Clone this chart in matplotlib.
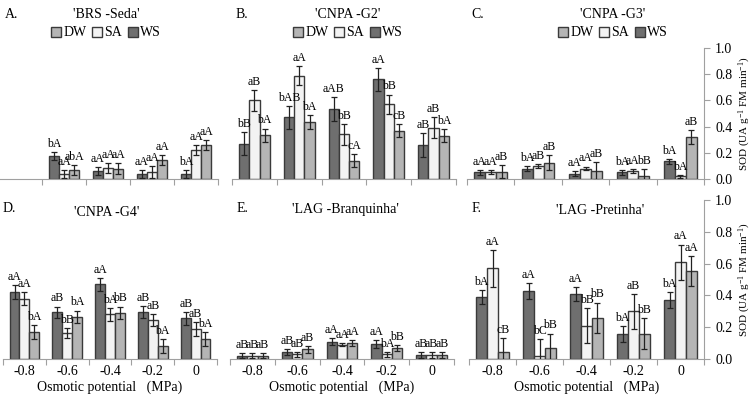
import numpy as np
import matplotlib.pyplot as plt
from matplotlib.patches import Patch

plt.rcParams['font.family'] = ['Liberation Serif', 'DejaVu Serif']
plt.rcParams['mathtext.fontset'] = 'custom'
plt.rcParams['mathtext.rm'] = 'Liberation Serif'
plt.rcParams['mathtext.it'] = 'Liberation Serif:italic'

potentials = ['-0.8', '-0.6', '-0.4', '-0.2', '0']
nan = np.nan

# order of rows: WS, SA, DW
seda_mean = [[nan, 0.175, 0.06, 0.04, 0.035], [nan, 0.04, 0.085, 0.055, 0.22], [nan, 0.07, 0.08, 0.145, 0.26]]
seda_err = [[nan, 0.03, 0.03, 0.03, 0.03], [nan, 0.03, 0.04, 0.045, 0.04], [nan, 0.04, 0.04, 0.04, 0.04]]
seda_lab = [['', 'bA', 'aA', 'aA', 'bA'], ['', 'aA', 'aA', 'aA', 'aA'], ['', 'abA', 'aA', 'aA', 'aA']]

g2_mean = [[0.27, 0.47, 0.535, 0.76, 0.26], [0.60, 0.79, 0.34, 0.57, 0.39], [0.335, 0.435, 0.14, 0.37, 0.33]]
g2_err = [[0.09, 0.09, 0.09, 0.09, 0.09], [0.08, 0.075, 0.08, 0.075, 0.08], [0.05, 0.05, 0.05, 0.05, 0.05]]
g2_lab = [['bB', 'bAB', 'aAB', 'aA', 'aB'], ['aB', 'aA', 'bB', 'bB', 'aB'], ['bA', 'bA', 'cA', 'cB', 'bA']]

g3_mean = [[0.05, 0.08, 0.04, 0.05, 0.135], [0.05, 0.10, 0.08, 0.06, 0.02], [0.055, 0.125, 0.06, 0.02, 0.32]]
g3_err = [[0.02, 0.02, 0.02, 0.02, 0.02], [0.015, 0.015, 0.015, 0.015, 0.01], [0.05, 0.055, 0.07, 0.055, 0.055]]
g3_lab = [['aA', 'bA', 'aA', 'bA', 'bA'], ['aA', 'aB', 'aA', 'aA', 'bA'], ['aB', 'aB', 'aB', 'bB', 'aB']]

g4_mean = [[0.42, 0.295, 0.47, 0.295, 0.255], [0.38, 0.165, 0.28, 0.245, 0.19], [0.17, 0.265, 0.29, 0.08, 0.125]]
g4_err = [[0.045, 0.035, 0.04, 0.04, 0.04], [0.04, 0.03, 0.04, 0.04, 0.045], [0.045, 0.04, 0.04, 0.045, 0.045]]
g4_lab = [['aA', 'aB', 'aA', 'aB', 'aB'], ['aA', 'bB', 'bA', 'aB', 'aB'], ['bA', 'bA', 'bB', 'bA', 'bA']]

bran_mean = [[0.02, 0.045, 0.11, 0.095, 0.025], [0.02, 0.03, 0.09, 0.03, 0.025], [0.02, 0.06, 0.10, 0.07, 0.025]]
bran_err = [[0.015, 0.02, 0.02, 0.025, 0.02], [0.015, 0.015, 0.01, 0.015, 0.02], [0.015, 0.02, 0.02, 0.02, 0.02]]
bran_lab = [['aB', 'aB', 'aA', 'aA', 'aB'], ['aB', 'aB', 'aA', 'bA', 'aB'], ['aB', 'aB', 'aA', 'bB', 'aB']]

pret_mean = [[0.39, 0.43, 0.41, 0.16, 0.37], [0.57, 0.017, 0.21, 0.30, 0.61], [0.044, 0.07, 0.26, 0.16, 0.555]]
pret_err = [[0.045, 0.05, 0.045, 0.05, 0.05], [0.115, 0.11, 0.11, 0.11, 0.11], [0.09, 0.09, 0.095, 0.095, 0.095]]
pret_lab = [['bA', 'aA', 'aA', 'bA', 'bA'], ['aA', 'bC', 'bB', 'aB', 'aA'], ['cB', 'bB', 'bB', 'bB', 'aA']]

colors = ['#6f6f6f', '#f3f3f3', '#b5b5b5']
spine_c = '#a0a0a0'

fig = plt.figure(figsize=(7.56, 3.99), dpi=100)

def panel(rect, mean, err, lab, right_axis, xlabels):
    ax = fig.add_axes(rect)
    x = np.arange(5)
    w = 0.23
    for i in range(3):
        xs = x + (i - 1) * w
        ax.bar(xs, mean[i], w, color=colors[i], edgecolor='#3a3a3a', lw=1.0, zorder=2)
        ax.errorbar(xs, mean[i], yerr=err[i], fmt='none', ecolor='#222222',
                    elinewidth=0.9, capsize=2.5, capthick=0.9, zorder=3)
        for j in range(5):
            if lab[i][j]:
                ax.annotate(lab[i][j], (xs[j], mean[i][j] + err[i][j]), xytext=(0, 1.5),
                            textcoords='offset points', ha='center', va='bottom', fontsize=8.5)
    ax.set_xlim(-0.5, 4.5)
    ax.set_ylim(0, 1.0)
    ax.set_xticks(np.arange(-0.5, 5, 1))
    ax.set_xticklabels([])
    ax.set_xticks(x, minor=True)
    ax.tick_params(axis='x', which='major', length=4, color=spine_c, direction='out')
    if xlabels:
        ax.set_xticklabels(potentials, minor=True)
        ax.tick_params(axis='x', which='minor', length=0, labelsize=10, pad=4)
        ax.set_xlabel('Osmotic potential   (MPa)', fontsize=10, labelpad=2)
    else:
        ax.tick_params(axis='x', which='minor', length=0, labelbottom=False)
    for s in ['top', 'left']:
        ax.spines[s].set_visible(False)
    ax.spines['bottom'].set_color(spine_c)
    if right_axis:
        ax.spines['right'].set_color(spine_c)
        ax.yaxis.tick_right()
        ax.set_yticks(np.arange(0, 1.01, 0.2))
        ax.set_yticklabels(['%.1f' % v for v in np.arange(0, 1.01, 0.2)])
        ax.tick_params(axis='y', length=4, color=spine_c, labelsize=10, pad=4)
        ax.yaxis.set_label_position('right')
        ax.set_ylabel(r'SOD (UA g$^{-1}$ FM min$^{-1}$)', fontsize=8, labelpad=3)
    else:
        ax.spines['right'].set_visible(False)
        ax.set_yticks([])
    return ax

top_b, top_h = 1 - 179 / 399, 131 / 399
bot_b, bot_h = 1 - 359 / 399, 159 / 399
W = 756
panel([-2 / W, top_b, 220 / W, top_h], seda_mean, seda_err, seda_lab, False, False)
panel([232 / W, top_b, 224 / W, top_h], g2_mean, g2_err, g2_lab, False, False)
panel([467 / W, top_b, 237 / W, top_h], g3_mean, g3_err, g3_lab, True, False)
panel([3 / W, bot_b, 214 / W, bot_h], g4_mean, g4_err, g4_lab, False, True)
panel([230 / W, bot_b, 224 / W, bot_h], bran_mean, bran_err, bran_lab, False, True)
panel([469 / W, bot_b, 235 / W, bot_h], pret_mean, pret_err, pret_lab, True, True)

def ftext(px, py, s, **kw):
    fig.text(px / W, 1 - py / 399, s, va='center', **kw)

ftext(5, 15, 'A.', fontsize=10)
ftext(236, 15, 'B.', fontsize=10)
ftext(471, 15, 'C.', fontsize=10)
ftext(3, 208, 'D.', fontsize=10)
ftext(237, 208, 'E.', fontsize=10)
ftext(472, 208, 'F.', fontsize=10)

ftext(106, 15, "'BRS -Seda'", fontsize=10, ha='center')
ftext(348, 15, "'CNPA -G2'", fontsize=10, ha='center')
ftext(613, 15, "'CNPA -G3'", fontsize=10, ha='center')
ftext(107, 212, "'CNPA -G4'", fontsize=10, ha='center')
ftext(345, 210, "'LAG -Branquinha'", fontsize=10, ha='center')
ftext(600, 210, "'LAG -Pretinha'", fontsize=10, ha='center')

handles = [Patch(facecolor=colors[2], edgecolor='#3a3a3a', label='DW'),
           Patch(facecolor=colors[1], edgecolor='#3a3a3a', label='SA'),
           Patch(facecolor=colors[0], edgecolor='#3a3a3a', label='WS')]
for cx in [106, 348, 613]:
    fig.legend(handles=handles, loc='center', bbox_to_anchor=(cx / W, 1 - 33 / 399), ncol=3,
               frameon=False, fontsize=10, handlelength=0.7, handleheight=0.7,
               handletextpad=0.2, columnspacing=0.4, borderpad=0)

fig.savefig('out.png', dpi=100)
